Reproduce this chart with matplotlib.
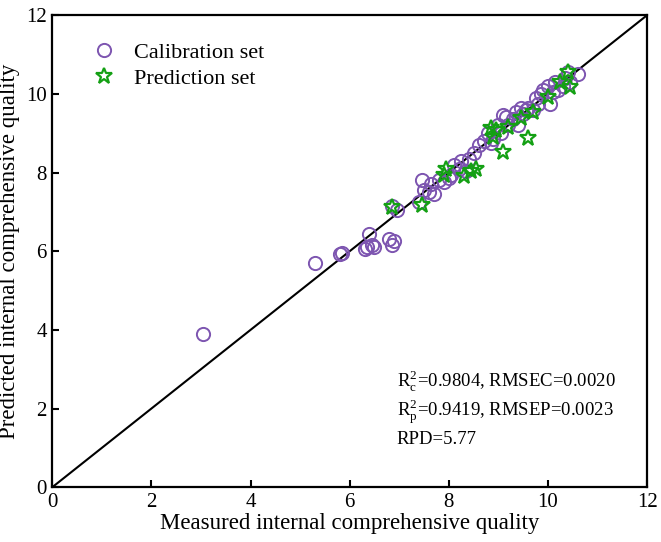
import matplotlib
matplotlib.use("Agg")
import matplotlib.pyplot as plt

# calibration set (measured, predicted)
cal_x = [3.05, 5.3, 5.8, 5.85, 6.3, 6.35, 6.4, 6.45, 6.5, 6.8, 6.85, 6.9,
         6.85, 6.95, 7.4, 7.45, 7.5, 7.6, 7.65, 7.7, 7.8, 7.9, 8.0, 8.05,
         8.1, 8.2, 8.25, 8.35, 8.4, 8.5, 8.6, 8.7, 8.8, 8.85, 8.9, 9.0,
         9.05, 9.1, 9.15, 9.2, 9.3, 9.35, 9.4, 9.45, 9.5, 9.55, 9.6, 9.7,
         9.75, 9.8, 9.85, 9.9, 10.0, 10.05, 10.1, 10.15, 10.2, 10.3, 10.35,
         10.4, 10.45, 10.6]
cal_y = [3.9, 5.7, 5.93, 5.95, 6.05, 6.1, 6.45, 6.15, 6.1, 6.3, 6.15, 6.25,
         7.15, 7.05, 7.25, 7.8, 7.55, 7.5, 7.7, 7.45, 7.8, 7.75, 7.85, 7.95,
         8.2, 8.1, 8.3, 8.05, 8.35, 8.5, 8.7, 8.8, 9.0, 8.75, 8.85, 9.2,
         9.0, 9.45, 9.4, 9.2, 9.35, 9.55, 9.2, 9.65, 9.5, 9.6, 9.65, 9.6,
         9.9, 9.75, 10.0, 10.1, 10.2, 9.75, 10.05, 10.3, 10.1, 10.2, 10.4,
         10.55, 10.3, 10.5]

# prediction set
pre_x = [6.85, 7.45, 7.9, 7.95, 8.3, 8.45, 8.55, 8.85, 8.95, 8.9, 9.1,
         9.2, 9.45, 9.6, 9.7, 10.0, 10.25, 10.4, 10.45]
pre_y = [7.12, 7.17, 7.93, 8.1, 7.9, 8.05, 8.1, 9.13, 9.08, 8.9, 8.52,
         9.15, 9.38, 8.87, 9.53, 9.92, 10.3, 10.55, 10.17]

stats = ["R$_\\mathregular{c}^\\mathregular{2}$=0.9804, RMSEC=0.0020",
         "R$_\\mathregular{p}^\\mathregular{2}$=0.9419, RMSEP=0.0023",
         "RPD=5.77"]

plt.rcParams['font.family'] = ['Liberation Serif', 'DejaVu Serif']
plt.rcParams['mathtext.fontset'] = 'stix'

fig = plt.figure(figsize=(6.61, 5.42), dpi=100)
ax = fig.add_axes([0.079, 0.101, 0.9, 0.871])

ax.plot([0, 12], [0, 12], color='black', lw=1.5, zorder=1)
ax.plot(cal_x, cal_y, 'o', mfc='none', mec='#7D55B0', mew=1.4, ms=9.5,
        label='Calibration set', zorder=2)
ax.plot(pre_x, pre_y, '*', mfc='none', mec='#14A014', mew=1.6, ms=12,
        label='Prediction set', zorder=3)

ax.set_xlim(0, 12)
ax.set_ylim(0, 12)
ax.set_xticks(range(0, 13, 2))
ax.set_yticks(range(0, 13, 2))
ax.tick_params(direction='in', length=5, width=1.5, labelsize=15, pad=4)
for s in ax.spines.values():
    s.set_linewidth(1.6)

ax.set_xlabel('Measured internal comprehensive quality', fontsize=16.5, labelpad=1)
ax.set_ylabel('Predicted internal comprehensive quality', fontsize=16.5, labelpad=4)

for i, t in enumerate(stats):
    ax.text(6.95, 2.55 - i * 0.73, t, fontsize=13.5, va='baseline')

ax.legend(loc='upper left', bbox_to_anchor=(0.049, 0.962), borderaxespad=0,
          frameon=False, fontsize=16, handletextpad=0.75,
          labelspacing=0.25, handlelength=1.2)

fig.savefig('out.png', dpi=100)
